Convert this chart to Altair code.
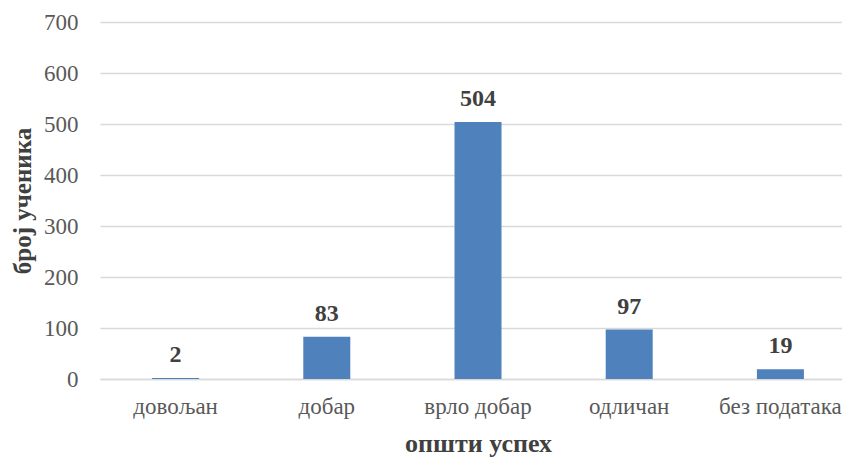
import altair as alt
import pandas as pd

categories = ["довољан", "добар", "врло добар", "одличан", "без података"]
values = [2, 83, 504, 97, 19]

df = pd.DataFrame({"cat": categories, "val": values})

FONT = "Liberation Serif"

base = alt.Chart(df).encode(
    x=alt.X("cat:N", sort=categories,
            scale=alt.Scale(range=[0, 756], paddingInner=0, paddingOuter=0),
            axis=alt.Axis(title="општи успех", labelAngle=0, labelFont=FONT,
                          labelFontSize=23, labelColor="#595959", labelPadding=16,
                          ticks=False, domainColor="#d9d9d9", domainWidth=1.5,
                          titleFont=FONT, titleFontSize=26, titleFontWeight="bold",
                          titleColor="#404040", titlePadding=12)),
)

bars = base.mark_bar(color="#4F81BD", size=47).encode(
    y=alt.Y("val:Q", scale=alt.Scale(domain=[0, 700]),
            axis=alt.Axis(values=[0, 100, 200, 300, 400, 500, 600, 700],
                          title="број ученика", labelFont=FONT, labelFontSize=23,
                          labelColor="#595959", labelPadding=22, ticks=False,
                          domain=False, gridColor="#d9d9d9", gridWidth=1.5,
                          titleFont=FONT, titleFontSize=25, titleFontWeight="bold",
                          titleColor="#404040", titlePadding=8)),
)

labels = base.mark_text(font=FONT, fontSize=24, fontWeight="bold", color="#404040",
                        baseline="bottom", dy=-11).encode(
    y=alt.Y("val:Q"),
    text=alt.Text("val:Q"),
)

chart = (bars + labels).properties(
    width=742, height=357,
    autosize=alt.AutoSizeParams(type="none"),
    padding={"left": 92, "top": 14, "right": 0, "bottom": 80},
).configure_view(stroke=None)

chart.save("out.html", embed_options={"renderer": "svg", "actions": False})
